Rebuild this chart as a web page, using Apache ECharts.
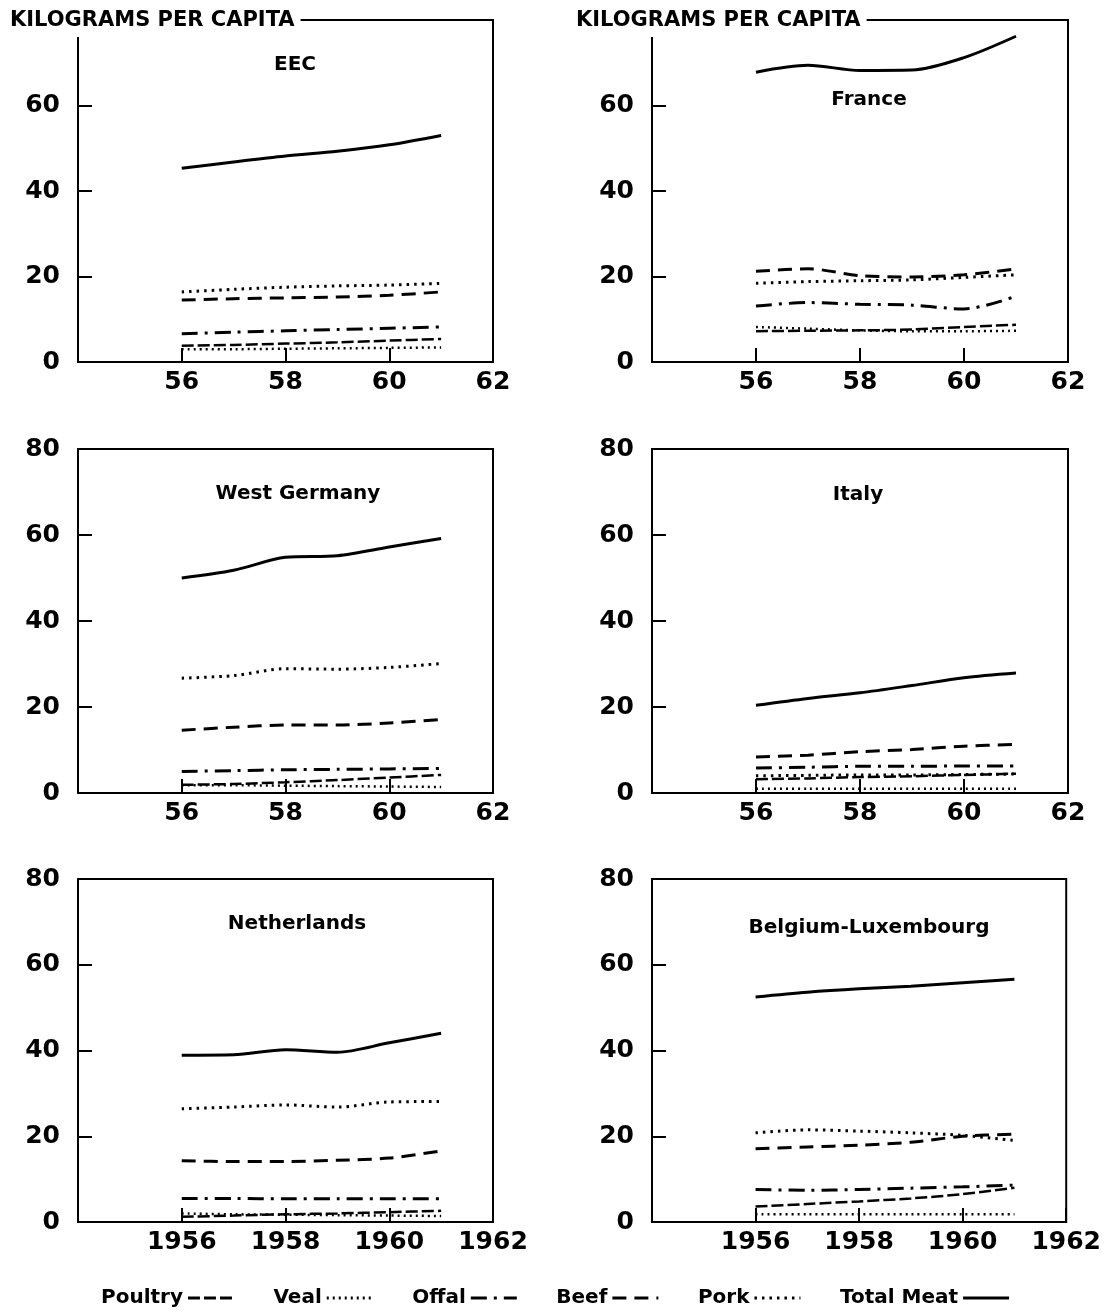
<!DOCTYPE html>
<html>
<head>
<meta charset="utf-8">
<script src="https://cdn.jsdelivr.net/npm/echarts@6/dist/echarts.min.js"></script>
<style>
  html, body { margin: 0; padding: 0; background: #fff; }
  #chart { width: 1104px; height: 1312px; }
</style>
</head>
<body>
<div id="chart"></div>
<script>
// years on the x axis
var years = [1956, 1957, 1958, 1959, 1960, 1961];
var yTicks = [0, 20, 40, 60, 80];
var seriesNames = ["Poultry", "Veal", "Offal", "Beef", "Pork", "Total Meat"];

// kilograms per capita
var eec = {
  "Total Meat": [45.3, 46.8, 48.2, 49.3, 50.8, 53.0],
  "Pork": [16.4, 17.0, 17.5, 17.8, 18.0, 18.4],
  "Beef": [14.5, 14.8, 15.0, 15.2, 15.6, 16.4],
  "Offal": [6.6, 7.0, 7.3, 7.6, 7.9, 8.2],
  "Poultry": [3.8, 4.0, 4.3, 4.6, 5.0, 5.4],
  "Veal": [3.0, 3.0, 3.1, 3.2, 3.3, 3.4]
};
var france = {
  "Total Meat": [67.8, 69.4, 68.2, 68.3, 71.2, 76.2],
  "Pork": [18.4, 18.8, 19.0, 19.2, 19.8, 20.4],
  "Beef": [21.2, 21.8, 20.2, 19.9, 20.4, 21.8],
  "Offal": [13.1, 13.9, 13.5, 13.3, 12.4, 15.4],
  "Poultry": [7.2, 7.3, 7.4, 7.6, 8.2, 8.7],
  "Veal": [8.2, 7.8, 7.4, 7.2, 7.2, 7.3]
};
var westGermany = {
  "Total Meat": [50.0, 51.8, 54.8, 55.2, 57.2, 59.2],
  "Pork": [26.7, 27.3, 28.9, 28.8, 29.2, 30.1],
  "Beef": [14.6, 15.3, 15.8, 15.8, 16.3, 17.1],
  "Offal": [5.0, 5.2, 5.4, 5.5, 5.6, 5.7],
  "Poultry": [1.9, 2.1, 2.5, 3.0, 3.6, 4.2],
  "Veal": [1.8, 1.8, 1.7, 1.6, 1.5, 1.4]
};
var italy = {
  "Total Meat": [20.4, 22.0, 23.3, 25.0, 26.8, 27.9],
  "Pork": [4.0, 4.1, 4.2, 4.2, 4.3, 4.4],
  "Beef": [8.4, 8.8, 9.6, 10.1, 10.9, 11.3],
  "Offal": [5.8, 6.0, 6.2, 6.2, 6.3, 6.3],
  "Poultry": [3.2, 3.4, 3.7, 3.9, 4.2, 4.5],
  "Veal": [1.0, 1.0, 1.0, 1.0, 1.0, 1.0]
};
var netherlands = {
  "Total Meat": [38.9, 39.0, 40.2, 39.6, 41.8, 44.0],
  "Pork": [26.4, 26.8, 27.3, 26.8, 28.0, 28.1],
  "Beef": [14.3, 14.1, 14.1, 14.4, 14.9, 16.6],
  "Offal": [5.5, 5.5, 5.4, 5.4, 5.4, 5.4],
  "Poultry": [1.2, 1.5, 1.8, 2.0, 2.3, 2.6],
  "Veal": [2.0, 1.8, 1.7, 1.6, 1.5, 1.4]
};
var belgiumLux = {
  "Total Meat": [52.5, 53.6, 54.4, 55.0, 55.8, 56.6],
  "Pork": [20.8, 21.5, 21.2, 20.8, 20.2, 19.0],
  "Beef": [17.1, 17.5, 17.9, 18.6, 20.0, 20.5],
  "Offal": [7.6, 7.4, 7.6, 7.9, 8.2, 8.6],
  "Poultry": [3.6, 4.2, 4.8, 5.5, 6.5, 8.0],
  "Veal": [1.8, 1.8, 1.8, 1.8, 1.8, 1.8]
};

var panels = [
  { title: "EEC", data: eec },
  { title: "France", data: france },
  { title: "West Germany", data: westGermany },
  { title: "Italy", data: italy },
  { title: "Netherlands", data: netherlands },
  { title: "Belgium-Luxembourg", data: belgiumLux }
];

var FONT = "DejaVu Sans";
var lefts = [78, 652];
var widths = [415, 416];
var tops = [20, 449, 879];
var heights = [342, 344, 343];
var titlePos = [[290, 63], [864, 98], [293, 492], [853, 493], [292, 922], [864, 926]];

var lineStyles = {
  "Total Meat": { type: "solid", width: 3 },
  "Pork": { type: [2.5, 5], width: 3 },
  "Beef": { type: [14, 8], width: 3 },
  "Offal": { type: [16, 7, 3, 7], width: 3 },
  "Poultry": { type: [12, 4], width: 2.5 },
  "Veal": { type: [2, 4], width: 2.5 }
};

var chart = echarts.init(document.getElementById("chart"));

var grids = [], xAxes = [], yAxes = [], series = [];
var titles = [
  { text: "KILOGRAMS PER CAPITA", left: 6, top: 7 },
  { text: "KILOGRAMS PER CAPITA", left: 572, top: 7 }
].map(function (t) {
  t.backgroundColor = "#fff";
  t.padding = [3, 6, 6, 4];
  t.textStyle = { fontFamily: FONT, fontWeight: "bold", fontSize: 21, color: "#000" };
  return t;
});

panels.forEach(function (p, i) {
  var row = Math.floor(i / 2), col = i % 2;
  grids.push({
    left: lefts[col], top: tops[row], width: widths[col], height: heights[row],
    show: true, borderColor: "#000", borderWidth: 2, backgroundColor: "transparent"
  });
  xAxes.push({
    type: "value", gridIndex: i, min: 1954, max: 1962, interval: 2,
    axisLine: { show: true, onZero: false, lineStyle: { color: "#000", width: 2 } },
    axisTick: { show: true, inside: true, length: 14, lineStyle: { color: "#000", width: 2 } },
    splitLine: { show: false },
    axisLabel: {
      showMinLabel: false, margin: 8, color: "#000",
      fontFamily: FONT, fontWeight: "bold", fontSize: 25,
      formatter: function (v) { return row === 2 ? String(v) : String(v).slice(2); }
    }
  });
  yAxes.push({
    type: "value", gridIndex: i, min: yTicks[0], max: yTicks[yTicks.length - 1], interval: 20,
    axisLine: { show: true, lineStyle: { color: "#000", width: 2 } },
    axisTick: { show: true, inside: true, length: 14, lineStyle: { color: "#000", width: 2 } },
    splitLine: { show: false },
    axisLabel: {
      showMaxLabel: row !== 0, margin: 18, color: "#000",
      fontFamily: FONT, fontWeight: "bold", fontSize: 25
    }
  });
  titles.push({
    text: p.title, left: titlePos[i][0], top: titlePos[i][1] - 13, textAlign: "center",
    textStyle: { fontFamily: FONT, fontWeight: "bold", fontSize: 20, color: "#000" }
  });
  seriesNames.forEach(function (name) {
    series.push({
      type: "line", name: name, xAxisIndex: i, yAxisIndex: i,
      data: years.map(function (y, k) { return [y, p.data[name][k]]; }),
      symbol: "none", smooth: 0.3,
      lineStyle: Object.assign({ color: "#000" }, lineStyles[name]),
      itemStyle: { color: "#000" }
    });
  });
});

chart.setOption({
  animation: false,
  backgroundColor: "#fff",
  title: titles,
  grid: grids,
  xAxis: xAxes,
  yAxis: yAxes,
  legend: {
    data: seriesNames, left: 96, top: 1283, align: "right",
    itemWidth: 46, itemHeight: 14, itemGap: 38,
    itemStyle: { opacity: 0 },
    lineStyle: { width: 3 },
    textStyle: { fontFamily: FONT, fontWeight: "bold", fontSize: 20, color: "#000" },
    selectedMode: false
  },
  series: series
});
</script>
</body>
</html>
